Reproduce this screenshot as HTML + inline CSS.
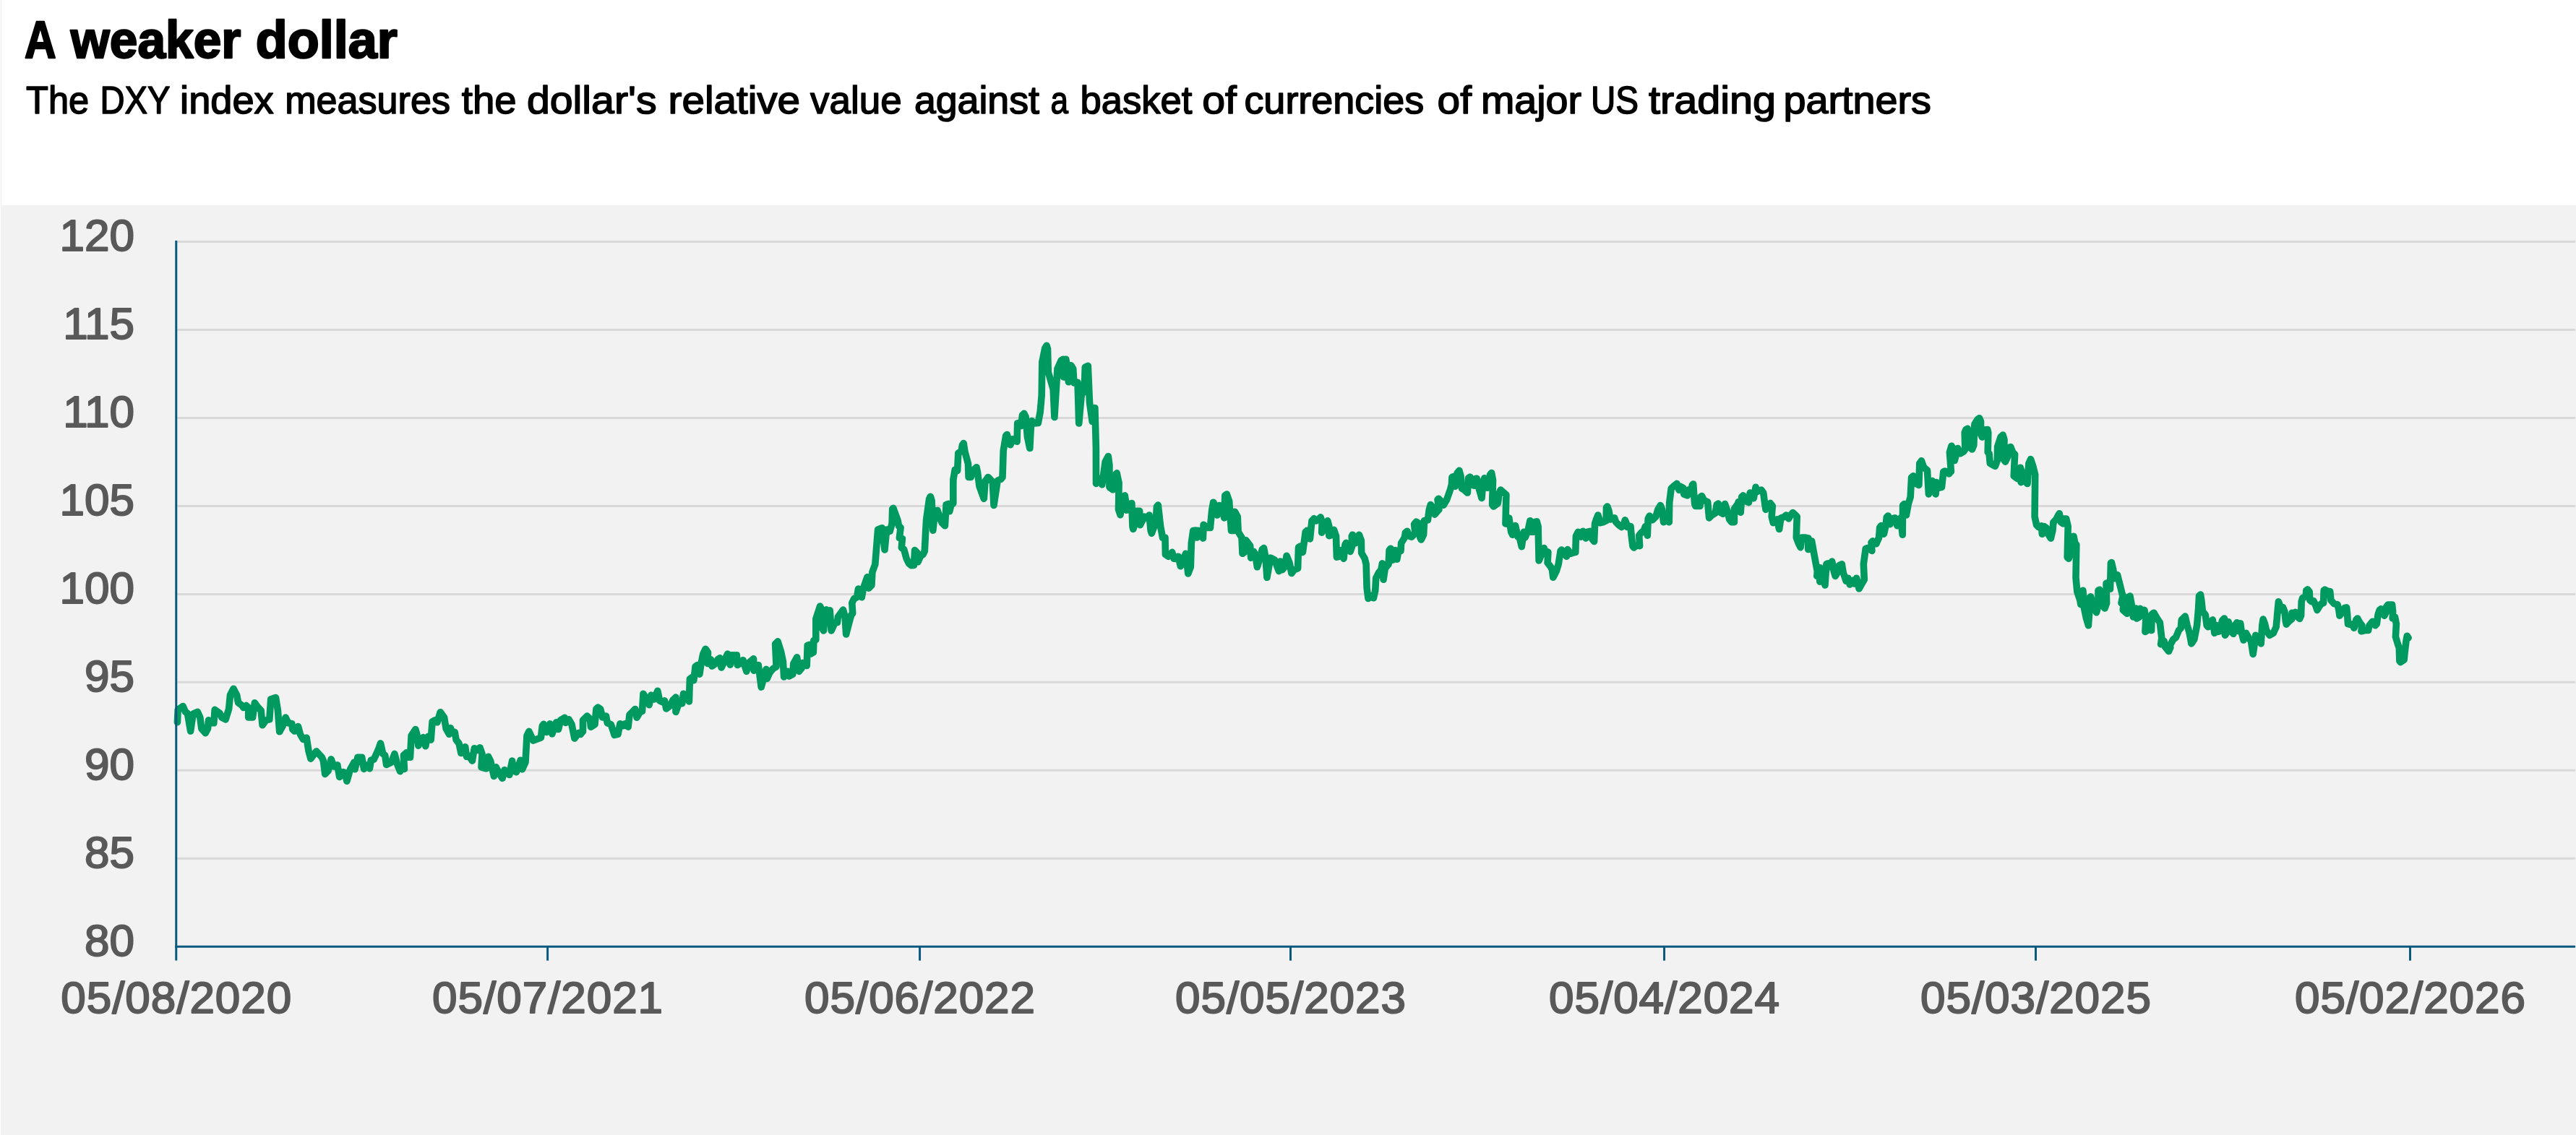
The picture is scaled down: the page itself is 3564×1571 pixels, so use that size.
<!DOCTYPE html>
<html lang="en">
<head>
<meta charset="utf-8">
<title>A weaker dollar</title>
<style>
html,body{margin:0;padding:0;background:#fff;}
body{width:3564px;height:1571px;overflow:hidden;position:relative;font-family:"Liberation Sans",sans-serif;}
svg{position:absolute;left:0;top:0;display:block;}
text{font-family:"Liberation Sans",sans-serif;}
.t{font-weight:bold;font-size:72px;fill:#000;stroke:#000;stroke-width:2.4px;stroke-linejoin:round;}
.s{font-size:54px;fill:#000;stroke:#000;stroke-width:1.6px;stroke-linejoin:round;}
.l{font-size:62px;fill:#595959;stroke:#595959;stroke-width:2px;stroke-linejoin:round;}
</style>
</head>
<body>
<svg width="3564" height="1571" viewBox="0 0 3564 1571">
<rect x="0" y="0" width="3564" height="1571" fill="#ffffff"/>
<rect x="1" y="0" width="1" height="284" fill="#ececec"/>
<rect x="1" y="284" width="3563" height="1287" fill="#f2f2f2"/>
<text class="t" y="80.4"><tspan x="34.0" textLength="41.4" lengthAdjust="spacingAndGlyphs">A</tspan> <tspan x="97.8" textLength="235.6" lengthAdjust="spacingAndGlyphs">weaker</tspan> <tspan x="353.8" textLength="196.0" lengthAdjust="spacingAndGlyphs">dollar</tspan></text>
<text class="s" y="157.2"><tspan x="36.0" textLength="87.2" lengthAdjust="spacingAndGlyphs">The</tspan> <tspan x="138.5" textLength="96.1" lengthAdjust="spacingAndGlyphs">DXY</tspan> <tspan x="249.1" textLength="129.6" lengthAdjust="spacingAndGlyphs">index</tspan> <tspan x="394.2" textLength="228.8" lengthAdjust="spacingAndGlyphs">measures</tspan> <tspan x="638.8" textLength="75.8" lengthAdjust="spacingAndGlyphs">the</tspan> <tspan x="728.9" textLength="179.7" lengthAdjust="spacingAndGlyphs">dollar's</tspan> <tspan x="924.6" textLength="182.5" lengthAdjust="spacingAndGlyphs">relative</tspan> <tspan x="1121.0" textLength="126.6" lengthAdjust="spacingAndGlyphs">value</tspan> <tspan x="1264.9" textLength="173.1" lengthAdjust="spacingAndGlyphs">against</tspan> <tspan x="1453.5" textLength="24.5" lengthAdjust="spacingAndGlyphs">a</tspan> <tspan x="1494.5" textLength="154.8" lengthAdjust="spacingAndGlyphs">basket</tspan> <tspan x="1663.3" textLength="47.7" lengthAdjust="spacingAndGlyphs">of</tspan> <tspan x="1721.4" textLength="248.9" lengthAdjust="spacingAndGlyphs">currencies</tspan> <tspan x="1988.6" textLength="47.3" lengthAdjust="spacingAndGlyphs">of</tspan> <tspan x="2048.9" textLength="139.1" lengthAdjust="spacingAndGlyphs">major</tspan> <tspan x="2201.0" textLength="66.0" lengthAdjust="spacingAndGlyphs">US</tspan> <tspan x="2281.0" textLength="176.0" lengthAdjust="spacingAndGlyphs">trading</tspan> <tspan x="2467.4" textLength="204.6" lengthAdjust="spacingAndGlyphs">partners</tspan></text>
<g stroke="#d9d9d9" stroke-width="3" fill="none">
<path d="M245.25 1188.28H3563"/>
<path d="M245.25 1066.31H3563"/>
<path d="M245.25 944.34H3563"/>
<path d="M245.25 822.38H3563"/>
<path d="M245.25 700.41H3563"/>
<path d="M245.25 578.44H3563"/>
<path d="M245.25 456.47H3563"/>
<path d="M245.25 334.50H3563"/>

</g>
<g class="l" text-anchor="end">
<text x="186" y="1322.75">80</text>
<text x="186" y="1200.78">85</text>
<text x="186" y="1078.81">90</text>
<text x="186" y="956.84">95</text>
<text x="186" y="834.88">100</text>
<text x="186" y="712.91">105</text>
<text x="186" y="590.94">110</text>
<text x="186" y="468.97">115</text>
<text x="186" y="347.00">120</text>

</g>
<g class="l" text-anchor="middle">
<text x="243.75" y="1402.3" textLength="319" lengthAdjust="spacing">05/08/2020</text>
<text x="757.60" y="1402.3" textLength="319" lengthAdjust="spacing">05/07/2021</text>
<text x="1272.55" y="1402.3" textLength="319" lengthAdjust="spacing">05/06/2022</text>
<text x="1785.50" y="1402.3" textLength="319" lengthAdjust="spacing">05/05/2023</text>
<text x="2302.55" y="1402.3" textLength="319" lengthAdjust="spacing">05/04/2024</text>
<text x="2816.50" y="1402.3" textLength="319" lengthAdjust="spacing">05/03/2025</text>
<text x="3334.50" y="1402.3" textLength="319" lengthAdjust="spacing">05/02/2026</text>

</g>
<polyline fill="none" stroke="#009a61" stroke-width="9.6" stroke-linejoin="round" stroke-linecap="round" points="245.4,999.8 246.2,982.4 253.2,977.5 256.5,985.3 259.4,987.2 263.6,1012.0 267.1,988.2 273.3,985.3 276.8,993.0 278.8,1008.5 284.2,1014.7 287.5,1008.5 288.5,996.9 292.3,1000.8 295.8,1000.8 297.2,982.4 304.0,987.2 306.9,993.0 312.1,995.9 316.6,981.4 318.5,962.0 323.0,953.3 327.6,962.0 329.6,972.7 335.0,976.6 336.9,979.5 340.8,976.6 343.7,979.5 343.7,993.0 349.5,993.0 352.4,972.7 357.3,979.5 361.1,983.3 363.1,1003.7 367.9,996.9 372.8,995.9 374.7,967.8 381.5,965.5 384.4,983.3 386.7,1012.8 391.2,1004.7 395.1,993.0 398.9,1000.8 403.8,1001.8 404.8,1009.5 407.7,1012.0 412.5,1005.6 415.4,1016.3 419.3,1023.1 424.1,1021.1 427.0,1039.5 429.9,1050.2 437.7,1039.9 445.4,1048.3 447.4,1053.1 449.7,1071.5 454.2,1066.7 458.1,1050.8 461.9,1060.9 466.8,1058.9 469.7,1075.4 474.5,1068.6 477.4,1069.6 479.9,1081.2 484.6,1064.8 490.0,1055.1 491.0,1064.8 494.9,1048.3 500.7,1048.3 503.6,1064.4 508.4,1058.9 511.4,1063.8 513.3,1052.2 517.2,1051.2 523.0,1038.6 526.5,1028.9 529.8,1043.4 532.7,1045.4 534.6,1058.5 541.4,1055.1 545.9,1043.4 550.1,1058.9 553.6,1067.7 557.9,1058.9 559.4,1064.4 558.4,1045.4 562.3,1041.9 564.2,1048.3 567.5,1048.3 569.1,1018.2 574.9,1009.5 576.8,1016.3 578.8,1032.2 585.5,1020.6 588.8,1032.8 590.8,1021.1 592.7,1019.2 596.2,1024.0 598.1,998.9 601.6,996.9 604.9,999.8 609.2,985.7 614.6,993.0 617.1,1008.5 621.4,1016.3 623.3,1007.6 625.7,1014.4 629.2,1013.4 631.1,1024.0 635.0,1028.9 637.9,1042.5 643.7,1033.7 645.6,1047.3 648.9,1046.3 653.4,1053.1 656.3,1035.7 660.6,1038.0 664.0,1034.7 667.0,1043.4 666.0,1061.8 672.8,1063.8 675.7,1047.3 678.6,1053.1 683.4,1074.4 686.3,1061.8 690.2,1069.6 695.1,1077.3 698.0,1065.7 704.8,1072.5 708.6,1053.1 710.6,1066.7 714.4,1068.6 720.2,1052.2 722.6,1064.8 727.0,1055.1 729.0,1018.2 731.9,1012.4 737.7,1025.0 748.4,1021.1 750.3,1004.7 752.2,1002.3 756.1,1013.4 761.0,1001.8 763.9,1015.9 769.7,999.8 772.6,1009.5 775.5,996.9 781.3,993.4 782.7,1000.4 787.1,995.9 791.0,1002.7 794.9,1022.1 800.7,1014.4 803.2,1016.3 806.5,1012.4 806.5,996.9 812.3,991.1 816.2,995.0 817.5,1006.2 823.0,1002.7 824.9,981.4 827.4,979.1 830.7,981.4 833.6,993.0 838.5,991.1 840.4,1000.8 845.3,1002.7 850.1,1017.3 855.0,1016.3 857.9,1001.8 862.3,1004.8 864.2,1001.9 869.1,1006.1 871.0,989.3 875.9,984.4 878.8,981.5 881.1,993.2 885.5,985.4 888.5,984.4 890.0,960.2 896.2,970.9 898.1,975.7 901.0,962.1 904.9,968.0 909.8,956.3 912.7,969.9 916.6,971.8 919.5,969.9 921.8,981.0 927.2,976.7 931.1,968.9 935.0,965.1 935.0,985.4 939.8,971.8 943.7,973.8 945.6,960.2 951.5,963.1 953.4,970.9 954.4,939.9 958.2,937.0 959.8,941.8 962.1,922.4 965.0,920.5 967.9,933.1 970.2,917.6 972.8,905.0 976.1,898.2 979.5,903.0 979.0,918.5 983.4,912.7 985.0,922.0 990.2,918.5 993.1,912.7 996.0,910.8 998.0,924.0 1001.8,916.6 1004.8,908.9 1006.7,905.0 1010.2,920.1 1012.5,906.9 1019.3,906.9 1020.2,920.5 1025.1,917.6 1028.0,913.7 1032.8,929.2 1035.8,917.6 1042.5,911.8 1043.1,928.2 1046.4,921.5 1049.3,920.5 1053.2,951.1 1060.0,926.3 1061.3,939.5 1064.8,931.1 1069.7,925.3 1074.1,922.8 1072.6,891.4 1076.1,887.9 1080.3,901.1 1083.4,915.6 1084.6,937.0 1090.0,929.2 1092.0,936.0 1096.8,933.1 1097.8,918.5 1102.6,909.8 1105.5,929.2 1109.4,924.4 1110.4,917.6 1114.3,918.5 1116.2,921.5 1117.2,893.3 1120.1,892.4 1122.0,905.0 1125.3,903.0 1125.9,886.6 1128.8,885.6 1128.8,856.5 1134.6,839.1 1137.5,844.9 1136.5,868.1 1139.5,873.0 1141.4,844.9 1143.3,843.9 1145.3,850.7 1148.2,844.9 1150.1,873.0 1155.0,862.3 1154.5,862.5 1158.4,861.6 1159.4,853.8 1166.5,844.1 1169.1,853.8 1170.6,878.0 1175.9,857.7 1177.8,850.9 1179.7,849.0 1178.8,834.4 1181.7,828.6 1185.5,826.7 1187.5,815.1 1190.0,816.0 1192.3,826.7 1194.3,815.1 1198.2,803.4 1200.1,798.6 1202.0,814.1 1205.9,810.2 1206.9,791.8 1210.8,781.1 1214.6,733.0 1220.3,730.7 1224.0,761.0 1226.7,733.0 1231.2,735.3 1234.1,725.0 1234.7,704.4 1235.8,703.2 1242.1,720.4 1243.6,728.4 1246.1,730.1 1244.4,744.5 1248.4,745.6 1247.3,758.2 1250.7,760.5 1254.1,773.1 1257.6,780.0 1261.0,782.8 1264.5,782.2 1265.6,761.6 1269.0,765.1 1270.2,777.7 1273.6,769.6 1277.0,767.4 1279.3,762.8 1280.5,738.7 1281.6,719.2 1285.6,690.6 1287.3,687.2 1289.1,692.9 1290.8,734.1 1293.7,707.2 1297.1,706.6 1300.0,715.8 1303.4,723.8 1307.4,727.8 1309.1,698.6 1312.8,697.3 1313.7,707.8 1316.0,698.6 1318.8,696.9 1318.8,672.3 1318.9,663.9 1321.2,650.2 1324.6,651.5 1325.8,627.3 1330.0,624.4 1331.5,615.8 1333.2,613.5 1334.9,625.0 1339.5,642.1 1340.1,660.5 1343.3,660.5 1345.8,651.9 1351.0,646.7 1352.5,653.6 1355.0,673.1 1361.3,690.3 1363.0,666.2 1367.0,660.5 1373.3,666.8 1375.0,699.4 1380.2,665.1 1384.8,663.3 1387.0,660.5 1388.2,623.8 1391.6,603.2 1393.3,601.5 1395.1,607.8 1397.9,615.8 1400.8,607.8 1404.2,608.9 1407.1,611.2 1407.7,586.0 1411.7,584.9 1412.8,589.5 1414.5,574.6 1416.8,572.3 1419.1,576.9 1421.4,604.4 1424.8,620.4 1426.6,584.9 1427.7,582.6 1430.6,586.0 1436.3,585.5 1439.2,570.0 1441.2,547.0 1441.8,501.2 1445.8,481.8 1448.1,478.3 1449.5,482.9 1450.3,515.0 1457.2,539.0 1458.9,577.4 1463.0,510.4 1468.1,498.9 1471.0,497.2 1471.5,521.9 1474.8,497.2 1476.1,505.8 1478.4,528.7 1481.8,505.8 1484.7,510.4 1485.9,529.9 1491.0,529.3 1492.7,586.0 1496.2,547.0 1500.2,540.2 1501.3,508.1 1505.3,506.4 1507.5,557.2 1511.2,583.5 1514.9,564.6 1516.4,620.2 1516.5,669.4 1521.3,662.6 1524.8,670.8 1529.1,639.4 1533.3,631.6 1534.9,643.3 1534.9,674.3 1539.7,677.8 1541.7,658.8 1545.2,654.9 1548.1,668.5 1547.5,705.3 1550.0,712.6 1553.3,689.8 1556.2,685.9 1558.2,697.5 1558.5,706.2 1562.0,705.3 1563.0,697.5 1565.9,696.6 1566.9,728.5 1567.8,732.4 1571.7,720.8 1572.7,707.2 1576.6,707.2 1577.5,726.6 1581.4,718.9 1583.3,715.0 1586.2,716.9 1590.1,713.0 1592.1,734.4 1593.4,738.2 1596.9,728.5 1599.8,713.0 1600.4,701.4 1602.3,699.1 1605.6,728.5 1608.5,744.0 1612.0,744.0 1612.4,767.3 1616.3,770.2 1621.7,764.4 1624.0,773.1 1628.3,773.5 1630.2,770.2 1633.3,783.8 1637.6,773.1 1640.5,766.3 1643.8,794.0 1647.3,784.8 1648.3,751.8 1650.8,734.4 1654.1,734.0 1656.0,744.0 1658.0,734.4 1661.8,736.3 1664.4,745.0 1665.1,726.2 1670.6,730.5 1674.4,730.5 1676.8,705.3 1678.7,695.2 1682.2,701.4 1684.1,713.0 1687.0,699.5 1690.9,701.4 1693.8,716.9 1694.8,685.9 1697.3,684.0 1700.6,693.6 1703.5,734.4 1707.4,734.4 1708.4,708.2 1712.2,715.0 1713.2,736.3 1718.0,744.0 1719.0,766.3 1722.9,763.4 1723.9,747.9 1729.7,755.7 1730.7,772.1 1734.5,763.4 1736.8,767.3 1739.4,784.8 1744.2,769.2 1746.2,760.5 1748.5,758.6 1751.0,771.2 1752.9,799.3 1757.8,772.1 1763.6,775.1 1769.4,790.6 1771.3,777.0 1774.3,788.6 1777.2,784.8 1780.1,769.2 1784.0,778.9 1786.9,793.5 1790.7,788.6 1795.6,786.7 1796.5,757.6 1799.5,755.7 1802.4,764.4 1806.2,736.3 1808.2,734.4 1812.4,746.0 1815.0,720.8 1817.9,717.9 1821.3,720.8 1822.9,719.8 1827.1,715.9 1829.1,722.7 1828.7,737.3 1832.0,732.4 1833.9,723.7 1836.8,720.8 1838.8,728.5 1838.8,741.7 1843.6,740.2 1845.5,733.4 1848.5,742.1 1849.4,771.2 1853.3,770.2 1855.2,761.5 1859.1,773.1 1861.0,753.7 1862.4,751.4 1866.9,755.7 1868.2,763.4 1870.8,755.7 1870.2,742.1 1871.3,740.2 1874.6,746.0 1875.6,751.8 1877.5,744.0 1880.4,740.2 1883.3,747.9 1883.7,765.4 1888.2,773.1 1890.1,780.9 1891.1,813.8 1893.0,828.4 1896.9,825.5 1900.4,827.8 1902.7,817.7 1903.7,800.2 1907.6,792.5 1910.9,788.6 1912.4,779.9 1914.0,802.2 1916.3,786.7 1921.1,780.9 1922.1,761.5 1924.0,759.2 1927.0,775.1 1930.8,761.5 1932.8,774.1 1934.7,763.4 1938.0,762.5 1938.6,751.8 1943.4,744.0 1944.4,737.3 1946.9,735.3 1950.2,742.1 1953.1,743.1 1958.0,738.2 1956.6,725.6 1959.3,722.3 1963.8,724.7 1964.8,744.0 1966.3,747.0 1969.6,740.2 1970.6,720.8 1975.4,719.8 1977.3,705.3 1979.3,698.5 1983.2,703.3 1985.1,712.1 1989.0,707.2 1990.9,705.3 1989.0,691.7 1990.3,690.2 1994.8,694.6 1997.3,699.1 2001.6,691.7 2006.4,678.1 2008.4,670.4 2008.9,660.7 2010.3,659.7 2013.2,673.3 2016.1,654.9 2019.0,651.4 2021.0,658.8 2022.5,676.2 2025.8,678.1 2030.3,682.0 2031.6,661.7 2033.9,660.1 2037.4,671.4 2040.3,672.3 2041.3,662.6 2043.2,662.2 2046.2,676.2 2050.0,689.4 2052.0,666.5 2053.9,661.7 2056.8,666.5 2057.8,675.2 2060.7,674.3 2061.7,656.8 2063.6,654.5 2065.5,664.6 2064.6,698.5 2066.5,701.0 2072.3,696.6 2074.3,682.0 2076.2,678.1 2083.9,684.9 2083.0,724.7 2086.9,725.6 2087.8,716.9 2090.7,736.3 2092.7,740.2 2096.6,727.6 2098.5,736.3 2100.0,743.1 2102.4,744.0 2105.3,756.6 2108.2,736.3 2110.1,744.0 2114.0,734.4 2116.9,720.8 2118.6,736.3 2121.3,736.3 2122.9,722.7 2126.2,721.8 2128.1,728.5 2129.1,776.0 2132.0,769.2 2133.9,760.5 2136.2,758.6 2138.8,767.3 2139.9,763.4 2141.9,764.4 2141.1,778.9 2145.6,784.8 2147.5,788.6 2148.8,799.3 2153.3,790.6 2156.2,780.9 2159.1,762.5 2160.5,761.1 2164.0,765.4 2167.4,770.2 2168.8,760.5 2172.7,766.3 2175.6,765.4 2179.8,764.4 2180.4,742.1 2183.3,736.3 2187.2,743.1 2190.1,735.3 2194.0,745.0 2195.9,736.3 2199.8,735.3 2202.7,746.0 2205.6,749.5 2206.6,724.7 2208.5,718.9 2210.9,713.0 2214.3,723.7 2218.2,722.7 2222.1,720.8 2222.5,702.4 2223.7,701.0 2226.0,707.2 2227.9,718.9 2233.7,716.9 2235.7,722.7 2239.6,726.6 2243.4,729.5 2246.3,727.6 2248.3,719.8 2250.2,724.7 2251.2,729.5 2256.0,728.5 2257.0,740.2 2258.9,755.7 2260.5,758.0 2264.8,754.7 2268.6,755.7 2267.7,741.1 2270.6,737.3 2274.4,734.4 2276.4,728.5 2279.3,741.1 2280.2,717.9 2282.2,714.0 2286.1,719.8 2290.9,715.0 2293.8,705.3 2297.3,699.5 2299.6,705.3 2301.6,722.7 2305.4,720.8 2309.3,722.7 2309.7,695.6 2312.2,676.2 2315.1,673.3 2320.0,669.4 2322.9,678.1 2324.8,673.3 2328.7,675.2 2329.7,684.0 2334.5,685.9 2335.5,678.1 2340.3,677.2 2341.3,671.4 2342.7,670.0 2344.6,697.5 2345.8,700.4 2352.0,700.4 2352.9,687.8 2354.5,686.5 2357.8,692.7 2362.6,694.6 2364.6,716.9 2368.4,713.0 2373.3,710.1 2375.2,698.5 2377.2,697.1 2380.1,709.2 2383.9,711.1 2386.5,697.5 2389.8,707.2 2392.7,718.9 2395.6,722.7 2399.4,722.7 2399.4,704.3 2404.3,697.5 2405.3,694.6 2408.2,709.2 2409.7,687.8 2411.7,685.9 2415.0,693.6 2417.9,694.6 2419.4,695.6 2421.3,682.0 2426.2,689.8 2429.1,674.3 2432.0,680.1 2436.8,678.1 2439.7,682.0 2441.7,697.5 2443.0,705.3 2446.5,698.5 2449.4,696.6 2452.3,700.4 2451.2,715.0 2453.3,723.7 2457.2,722.7 2458.5,718.9 2461.6,732.4 2464.0,716.9 2467.8,715.9 2471.3,713.0 2474.6,717.9 2477.5,713.0 2480.4,709.5 2484.3,713.0 2486.2,715.0 2485.3,744.0 2488.2,751.8 2491.1,757.6 2493.0,744.0 2496.9,744.0 2501.8,745.0 2501.8,760.5 2504.7,759.5 2506.6,748.9 2508.9,761.5 2511.4,775.1 2514.3,790.6 2513.8,797.4 2518.2,785.7 2517.8,805.1 2522.1,800.2 2525.0,810.0 2526.9,780.9 2528.9,779.9 2531.8,784.8 2534.7,777.0 2537.2,790.6 2539.2,797.4 2543.4,790.6 2544.4,782.8 2548.3,780.9 2550.2,792.5 2554.1,804.1 2557.0,800.2 2559.3,809.0 2563.8,803.2 2565.7,808.0 2568.6,800.2 2572.1,814.8 2575.4,809.0 2579.3,802.2 2578.3,780.9 2581.2,759.5 2583.7,758.6 2587.0,759.5 2589.9,762.5 2589.0,750.8 2590.9,748.9 2595.8,752.8 2599.6,744.0 2600.6,730.5 2602.5,727.6 2606.4,739.2 2608.9,728.5 2610.3,715.9 2612.2,714.0 2615.1,725.6 2618.1,717.9 2621.9,716.9 2624.8,727.6 2627.7,718.9 2629.7,716.9 2632.2,740.2 2632.6,699.5 2634.5,697.5 2637.4,713.0 2640.3,697.5 2643.2,687.8 2644.6,660.7 2647.1,658.8 2651.0,669.4 2654.9,671.4 2655.8,641.3 2658.4,637.8 2661.7,647.1 2666.5,651.0 2668.4,684.0 2671.3,678.1 2673.3,665.5 2675.2,676.2 2678.1,684.0 2679.1,667.5 2683.0,675.2 2686.5,674.3 2688.8,653.0 2690.7,652.0 2693.6,653.0 2696.5,655.9 2699.4,652.6 2697.4,625.9 2700.0,617.2 2702.9,622.0 2704.2,637.5 2708.7,620.5 2712.0,627.8 2716.8,624.9 2718.8,622.0 2718.2,598.8 2719.7,594.9 2722.2,593.3 2725.0,602.6 2726.5,620.1 2728.5,622.0 2730.8,616.2 2731.9,587.1 2736.2,580.4 2738.5,578.8 2740.5,583.3 2740.5,600.7 2742.4,605.0 2744.9,602.6 2745.9,594.9 2749.8,594.5 2750.8,598.8 2750.2,625.9 2752.1,627.8 2753.3,641.4 2756.6,643.3 2760.4,645.3 2763.3,637.5 2763.7,618.1 2768.2,604.6 2771.1,602.1 2773.0,608.5 2772.7,636.6 2774.4,639.1 2777.9,631.7 2778.8,620.1 2781.8,618.5 2784.7,625.9 2787.6,628.8 2786.2,658.9 2791.4,662.7 2792.4,651.1 2795.3,647.2 2797.3,653.0 2796.3,667.6 2801.1,660.8 2802.1,666.6 2805.0,669.5 2806.9,641.4 2809.5,635.6 2812.8,645.3 2815.7,656.9 2815.1,715.1 2817.6,726.7 2820.5,729.6 2824.4,727.7 2825.4,739.3 2828.3,728.6 2831.2,730.6 2833.1,738.3 2837.4,745.1 2839.9,734.4 2840.9,722.8 2844.8,718.9 2847.7,713.1 2849.2,710.8 2851.5,722.8 2854.4,724.8 2855.4,718.0 2858.7,718.0 2861.2,728.6 2860.2,771.3 2862.2,773.2 2865.1,763.5 2866.1,743.2 2869.0,742.2 2870.9,751.9 2872.8,753.8 2872.0,799.8 2873.9,819.2 2877.8,830.8 2878.8,836.6 2880.7,818.2 2881.9,817.2 2883.6,842.4 2886.5,856.0 2889.4,865.7 2890.8,846.3 2891.4,826.9 2892.7,825.9 2896.2,838.5 2900.5,847.8 2903.0,838.5 2903.0,817.2 2904.9,816.2 2907.8,823.0 2909.8,838.5 2912.1,842.0 2914.6,834.7 2914.0,807.5 2916.0,806.6 2919.5,815.3 2920.4,779.4 2921.4,778.5 2923.7,788.1 2925.3,800.8 2929.6,795.9 2933.0,809.5 2936.9,825.0 2935.0,834.7 2938.8,825.9 2937.3,844.4 2942.7,849.2 2944.7,826.9 2947.0,825.0 2949.5,838.5 2951.4,854.0 2955.3,842.0 2956.3,856.0 2959.8,854.0 2961.1,842.4 2964.1,846.3 2966.9,844.4 2968.9,856.0 2967.9,874.4 2973.7,870.5 2973.0,859.9 2976.6,872.5 2977.2,850.2 2979.9,848.2 2984.4,856.0 2988.3,861.8 2990.8,883.1 2989.6,891.8 2994.1,887.4 2995.1,894.8 3000.5,901.5 3002.8,896.3 3002.0,893.8 3006.7,885.1 3010.6,882.1 3014.4,872.5 3017.3,869.5 3018.3,857.9 3023.2,853.1 3026.1,865.7 3029.0,875.4 3031.9,890.9 3035.8,885.1 3039.6,865.7 3041.6,842.4 3042.5,825.0 3044.5,823.0 3045.8,830.8 3047.4,846.3 3051.3,851.1 3053.2,865.7 3054.8,867.6 3058.1,866.6 3060.0,859.5 3061.3,857.9 3063.9,876.3 3066.8,865.7 3068.7,874.4 3071.6,873.4 3074.5,858.9 3077.4,856.0 3079.4,863.7 3078.4,879.2 3082.3,873.4 3083.2,860.8 3087.1,873.4 3090.0,877.3 3092.0,865.7 3094.9,861.8 3096.8,873.4 3099.7,862.8 3101.7,877.3 3104.0,886.0 3107.5,876.3 3111.3,883.1 3114.3,887.0 3117.2,905.4 3120.1,885.1 3120.7,879.2 3124.9,883.1 3128.2,890.9 3129.8,865.7 3131.1,857.0 3133.6,863.7 3135.6,872.5 3140.0,879.2 3145.3,876.3 3149.2,867.6 3151.1,846.3 3152.4,832.7 3154.5,838.5 3155.5,844.4 3158.4,840.5 3160.9,846.3 3162.3,859.9 3163.3,864.1 3167.1,859.9 3170.6,857.0 3171.0,848.2 3173.9,849.2 3175.9,847.3 3178.8,854.0 3181.7,856.4 3183.6,852.1 3184.2,832.7 3185.6,827.9 3190.4,825.0 3190.8,817.2 3192.7,815.9 3195.2,819.2 3195.8,830.8 3198.2,832.7 3201.1,831.8 3204.0,838.5 3205.9,844.4 3208.8,839.5 3211.7,835.6 3214.6,834.7 3215.2,817.2 3216.6,816.2 3220.4,818.2 3223.7,818.8 3224.9,830.8 3229.2,835.6 3234.0,836.6 3235.9,844.4 3236.9,852.1 3240.8,847.3 3243.7,841.5 3246.6,840.9 3247.6,850.2 3248.5,863.7 3252.4,864.7 3254.3,863.7 3256.9,869.2 3259.2,863.7 3259.8,857.9 3261.7,856.0 3265.0,861.8 3267.9,865.7 3266.9,873.8 3271.8,872.5 3276.6,872.5 3278.0,865.7 3282.5,860.2 3286.3,865.7 3288.3,863.7 3290.2,850.2 3292.2,844.4 3294.1,842.8 3297.0,848.2 3298.9,852.1 3301.8,846.3 3301.3,840.5 3303.8,837.0 3309.6,837.0 3310.6,846.3 3310.2,856.0 3313.5,854.0 3315.4,863.7 3314.4,881.2 3317.3,890.9 3319.3,896.7 3319.9,915.1 3321.2,916.5 3326.1,913.2 3327.0,904.4 3329.0,887.0 3330.3,880.2 3332.1,882.9"/>
<g stroke="#0b5a7e" stroke-width="3" fill="none">
<path d="M243.75 333V1329.6"/>
<path d="M242.25 1310.25H3563"/>
<path d="M757.60 1310V1329.6"/>
<path d="M1272.55 1310V1329.6"/>
<path d="M1785.50 1310V1329.6"/>
<path d="M2302.55 1310V1329.6"/>
<path d="M2816.50 1310V1329.6"/>
<path d="M3334.50 1310V1329.6"/>

</g>
</svg>
</body>
</html>
